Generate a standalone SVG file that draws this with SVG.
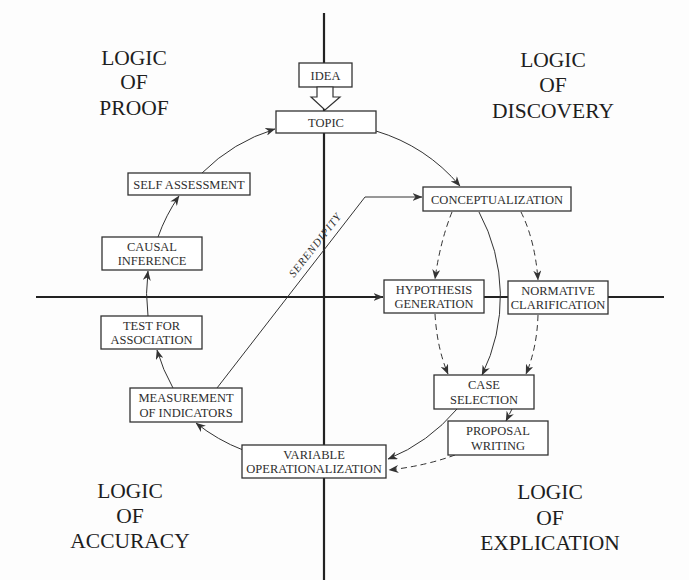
<svg xmlns="http://www.w3.org/2000/svg" width="689" height="580" viewBox="0 0 689 580">
<defs>
<marker id="ah" viewBox="0 0 10 8" refX="9.5" refY="4" markerWidth="10" markerHeight="8" markerUnits="userSpaceOnUse" orient="auto">
<path d="M0,0 L10,4 L0,8 L3,4 z" fill="#333"/>
</marker>
<style>
.box{fill:#fff;stroke:#333;stroke-width:1.3}
.lbl{font-family:"Liberation Serif","Times New Roman",serif;font-size:12.5px;fill:#2e2e2e;text-anchor:middle}
.logic{font-family:"Liberation Serif","Times New Roman",serif;font-size:21.5px;fill:#1e1e1e;text-anchor:middle}
.ln{fill:none;stroke:#333;stroke-width:1}
.dash{fill:none;stroke:#333;stroke-width:1;stroke-dasharray:6,4}
.axis{fill:none;stroke:#222;stroke-width:2.2}
</style>
</defs>
<rect x="0" y="0" width="689" height="580" fill="#fdfdfd"/>

<g id="quadrant-labels">
<text class="logic" x="134" y="65">LOGIC</text>
<text class="logic" x="134" y="89">OF</text>
<text class="logic" x="134" y="115">PROOF</text>
<text class="logic" x="553" y="67">LOGIC</text>
<text class="logic" x="553" y="92">OF</text>
<text class="logic" x="553" y="118">DISCOVERY</text>
<text class="logic" x="130" y="498">LOGIC</text>
<text class="logic" x="130" y="523">OF</text>
<text class="logic" x="130" y="548">ACCURACY</text>
<text class="logic" x="550" y="499">LOGIC</text>
<text class="logic" x="550" y="525">OF</text>
<text class="logic" x="550" y="550">EXPLICATION</text>
</g>

<g id="axes">
<path class="axis" d="M324,13 V580"/>
<path class="axis" d="M36,297 H383" marker-end="url(#ah)"/>
<path class="axis" d="M484,297 H664"/>
</g>

<g id="connectors">
<path class="ln" d="M376,131 A177,177 0 0 1 460,186" marker-end="url(#ah)"/>
<path class="ln" d="M479,212 A177,177 0 0 1 482,375" marker-end="url(#ah)"/>
<path class="ln" d="M457,409 A177,177 0 0 1 388,459" marker-end="url(#ah)"/>
<path class="ln" d="M243,450 A177,177 0 0 1 196,423" marker-end="url(#ah)"/>
<path class="ln" d="M173,388 A177,177 0 0 1 157,350" marker-end="url(#ah)"/>
<path class="ln" d="M148,316 A177,177 0 0 1 148,271" marker-end="url(#ah)"/>
<path class="ln" d="M158,237 A177,177 0 0 1 179,196" marker-end="url(#ah)"/>
<path class="ln" d="M202,173 A177,177 0 0 1 275,129" marker-end="url(#ah)"/>
<path class="dash" d="M452,212 Q440,242 435,279" marker-end="url(#ah)"/>
<path class="dash" d="M521,212 Q535,240 538,280" marker-end="url(#ah)"/>
<path class="dash" d="M435,314 Q437,348 448,374" marker-end="url(#ah)"/>
<path class="dash" d="M538,315 Q537,348 526,374" marker-end="url(#ah)"/>
<path class="dash" d="M512,409 L506,421" marker-end="url(#ah)"/>
<path class="dash" d="M455,455 Q425,466 389,470" marker-end="url(#ah)"/>
<path class="ln" d="M217,388 L365,197 H422" marker-end="url(#ah)"/>
<text x="0" y="0" transform="translate(294,278) rotate(-52)" font-family="'Liberation Serif','Times New Roman',serif" font-style="italic" font-size="11" letter-spacing="1" fill="#2e2e2e">SERENDIPITY</text>
</g>

<g id="idea">
<rect class="box" x="299" y="63" width="53" height="24"/>
<text class="lbl" x="325.5" y="80">IDEA</text>
<polygon points="317,87 333,87 333,97 340,97 325,110 311,97 317,97" fill="#fff" stroke="#333" stroke-width="1.2"/>
</g>
<g id="topic">
<rect class="box" x="276" y="111" width="100" height="22"/>
<text class="lbl" x="326" y="127">TOPIC</text>
</g>
<g id="self-assessment">
<rect class="box" x="128" y="173" width="122" height="22"/>
<text class="lbl" x="189" y="189">SELF ASSESSMENT</text>
</g>
<g id="causal-inference">
<rect class="box" x="102" y="237" width="100" height="33"/>
<text class="lbl" x="152" y="251">CAUSAL</text>
<text class="lbl" x="152" y="265">INFERENCE</text>
</g>
<g id="test-for-association">
<rect class="box" x="101" y="316" width="101" height="33"/>
<text class="lbl" x="151.5" y="330">TEST FOR</text>
<text class="lbl" x="151.5" y="344">ASSOCIATION</text>
</g>
<g id="measurement-of-indicators">
<rect class="box" x="130" y="388" width="112" height="34"/>
<text class="lbl" x="186" y="402">MEASUREMENT</text>
<text class="lbl" x="186" y="417">OF INDICATORS</text>
</g>
<g id="variable-operationalization">
<rect class="box" x="242" y="445" width="144" height="33"/>
<text class="lbl" x="314" y="459">VARIABLE</text>
<text class="lbl" x="314" y="473">OPERATIONALIZATION</text>
</g>
<g id="conceptualization">
<rect class="box" x="423" y="187" width="148" height="24"/>
<text class="lbl" x="497" y="204">CONCEPTUALIZATION</text>
</g>
<g id="hypothesis-generation">
<rect class="box" x="384" y="280" width="100" height="33"/>
<text class="lbl" x="434" y="294">HYPOTHESIS</text>
<text class="lbl" x="434" y="308">GENERATION</text>
</g>
<g id="normative-clarification">
<rect class="box" x="508" y="281" width="100" height="33"/>
<text class="lbl" x="558" y="295">NORMATIVE</text>
<text class="lbl" x="558" y="309">CLARIFICATION</text>
</g>
<g id="case-selection">
<rect class="box" x="434" y="375" width="100" height="34"/>
<text class="lbl" x="484" y="389">CASE</text>
<text class="lbl" x="484" y="404">SELECTION</text>
</g>
<g id="proposal-writing">
<rect class="box" x="448" y="421" width="100" height="34"/>
<text class="lbl" x="498" y="435">PROPOSAL</text>
<text class="lbl" x="498" y="450">WRITING</text>
</g>
</svg>
